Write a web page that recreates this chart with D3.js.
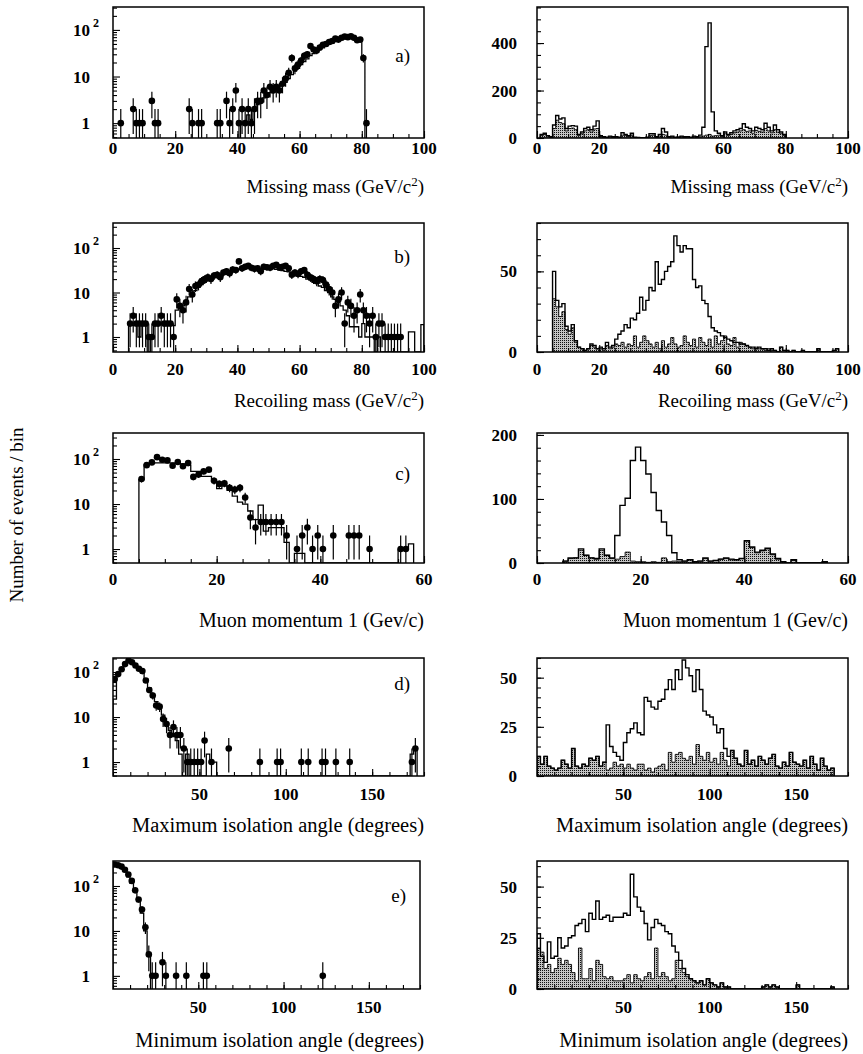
<!DOCTYPE html>
<html><head><meta charset="utf-8">
<script src="https://cdn.jsdelivr.net/npm/d3@7"></script>
<style>
body{margin:0;background:#fff;}
svg{display:block;}
text{font-family:"Liberation Serif","Times New Roman",serif;fill:#000;}
</style></head><body>
<svg id="chart" width="863" height="1054"></svg>
<script>
// ---------------- DATA ----------------
const titles = ["Missing mass (GeV/c", "Recoiling mass (GeV/c", "Muon momentum 1 (Gev/c)", "Maximum isolation angle (degrees)", "Minimum isolation angle (degrees)"];
const panelLetters = ["a)", "b)", "c)", "d)", "e)"];
const yAxisTitle = "Number of events / bin";
const massTicks = [0, 20, 40, 60, 80, 100];
const momTicks = [0, 20, 40, 60];
const angleTicks = [50, 100, 150];
const logTicks = [1, 10, 100];
const aRightTicks = [0, 200, 400];
const bRightTicks = [0, 50];
const cRightTicks = [0, 100, 200];
const dRightTicks = [0, 25, 50];
const eRightTicks = [0, 25, 50];

// a) missing mass, 1 GeV bins (0-100)
const aLeftData = [0,0,1,0,0,0,2,1,1,1, 0,0,3,1,1,0,0,0,0,0, 0,0,0,0,2,1,0,1,1,0, 0,0,0,1,1,0,3,1,2,5,
  1,2,1,2,1,2,3,3,5,4, 6,5,6,5,7,9,12,25,15,18, 22,28,30,45,38,36,42,48,50,55, 58,65,62,68,72,70,73,68,60,62, 25,1];
const aLeftMC = [0,0,0,0,0,0,0,0,0,0, 0,0,0,0,0,0,0,0,0,0, 0,0,0,0,0,0,0,0,0,0, 0,0,0,0,0,0,0,0,0,0,
  0,1,1,1.5,1.2,2,2.5,3,3.5,4, 4.5,5,5.5,6,7,7.5,9,11,13,15, 18,21,24,28,31,34,38,41,45,49, 52,56,59,62,64,65,65,64,62,58, 25];
const aRightTotal = [0,15,20,10,5,55,95,80,85,40, 50,52,50,15,25,40,45,35,50,72, 10,5,3,8,5,6,3,22,15,10, 20,3,2,1,0,3,18,18,5,15,
  40,25,5,8,3,4,8,5,6,3, 8,5,12,45,385,485,110,30,20,10, 25,15,22,30,35,40,60,45,40,30, 45,40,35,62,45,30,55,35,25,15];
const aRightBkg = [0,10,15,8,3,40,75,65,60,30, 40,42,35,10,18,30,35,25,38,40, 6,3,2,5,3,4,2,12,10,6, 12,2,1,1,1,1,10,12,3,8,
  15,12,3,5,2,2,5,3,4,2, 5,3,5,8,12,15,8,10,12,6, 18,10,15,22,25,30,35,28,30,20, 32,28,25,40,30,22,35,25,18,10];

// b) recoiling mass, 1 GeV bins (0-100)
const bLeftData = [0,0,0,0,0,2,3,2,2,2, 2,1,1,2,2,3,2,2,2,1, 7,5,4,6,12,9,14,15,18,20, 22,20,24,25,22,28,30,27,33,32,
  50,35,38,40,36,34,35,30,38,37, 36,40,42,37,38,40,35,25,28,26, 30,32,25,22,20,18,20,19,15,12, 10,5,7,10,2,6,5,3,4,9,
  4,3,2,3,1,2,2,1,1,1, 1,1,1];
const bLeftMC = [0,0,0,0,0,1.8,1.8,2,1,1.8, 1.8,0,1,1.8,1.8,2,1.8,2,1.8,1.8, 4,5,5,6,8,9,11,13,15,17, 19,21,23,25,26,28,29,30,31,32,
  33,34,34,35,35,35,35,35,35,35, 34,34,33,32,31,30,29,27,26,24, 23,22,20,19,17,16,14,13,11,10, 8,7,6,5,4,3,1.7,1.7,1.7,1,
  2,1,1,1,0,1,0,0,0,0, 0,0,0,0,0,1.3,1.3,0,0,1.9];
const bRightTotal = [0,0,0,0,0,50,32,28,30,16, 13,17,7,3,2,1,2,5,4,2, 3,2,6,3,4,8,11,13,17,15, 21,20,24,34,26,32,40,38,56,42,
  45,50,53,56,72,66,62,66,64,64, 45,40,41,32,30,22,15,13,12,10, 9,8,7,6,6,5,5,4,3,3, 2,3,2,2,1,2,1,0,3,1,
  1,0,1,0,0,1,0,0,0,0, 2,0,0,0,0,1,2];
const bRightBkg = [0,0,0,0,0,33,28,22,25,14, 11,15,6,3,2,1,2,4,3,2, 2,1,4,2,3,5,4,6,3,5, 4,10,3,6,10,7,5,3,6,2,
  7,3,5,9,5,3,4,10,6,4, 8,3,9,6,4,8,3,10,5,7, 10,5,4,9,3,6,5,4,3,2, 3,2,2,1,2,1,1,0,3,1,
  1,0,1,0,0,1,0,0,0,0, 2,0,0,0,0,1,2];

// c) muon momentum, 1 GeV/c bins (0-60)
const cLeftData = [0,0,0,0,0,36,73,84,110,96, 93,71,86,69,81,40,45,53,58,33, 28,29,23,21,23,14,5,3,4,4,
  4,4,4,2,0,1,2,3,1,2, 1,0,2,0,0,2,2,2,0,1, 0,0,0,0,0,1,1];
const cLeftMC = [0,0,0,0,0,35,75,80,82,82, 82,82,80,78,72,53,53,41,41,32, 22,25,20,15,11,10,7,4.5,9.5,2.5,
  3,3,3,1.4,0,0.8,0.8,0,0,0, 0,0,0,0,0,0,0,0,0,0, 0,0,0,0,0,1,1,1.3];
const cRightTotal = [0,0,0,0,0,3,8,8,22,12, 8,7,22,12,8,43,90,101,160,181, 160,139,110,82,64,43,16,5,3,5,
  2,3,8,3,4,6,8,6,5,7, 35,25,17,20,23,14,7,2,0,5, 0,0,0,0,0,2];
const cRightBkg = [0,0,0,0,0,3,7,8,20,12, 8,6,20,12,7,6,10,17,3,2, 2,1,2,1,8,2,3,2,3,5,
  2,3,7,3,4,6,7,5,5,7, 34,24,16,19,22,13,6,2,0,4, 0,0,0,0,0,1];

// d) maximum isolation angle, 2 degree bins (0-180)
const dLeftData = [70,90,115,150,180,165,140,118,105,65, 40,30,18,17,9,7,4,6,4,4, 2,1,1,1,1,1,3,0,1,0,
  0,0,0,2,0,0,0,0,0,0, 0,0,1,0,0,0,0,1,1,0, 0,0,0,0,1,0,1,0,0,0, 1,1,0,0,1,0,0,0,1,0,
  0,0,0,0,0,0,0,0,0,0, 0,0,0,0,0,0,1,2];
const dLeftMC = [25,85,110,140,165,160,140,115,95,70, 45,32,22,15,11,7,5,4,3,1.5, 0,1.5,0,0,0,0,0,1.5,1,1,
  0,0,0,0,0,0,0,0,0,0, 0,0,0,0,0,0,0,0,0,0, 0,0,0,0,0,0,0,0,0,0, 0,0,0,0,0,0,0,0,0,0,
  0,0,0,0,0,0,0,0,0,0, 0,0,0,0,0,0,1.5,2];
const dRightTotal = [10,6,10,5,4,3,4,8,6,4, 14,5,4,6,5,9,8,10,5,7, 26,15,12,10,8,17,22,24,27,22,
  21,40,38,35,34,38,39,44,49,44, 54,49,59,55,51,43,54,44,33,31, 30,26,22,24,14,10,13,9,6,5,
  13,6,8,5,10,8,6,9,11,5, 4,7,5,12,7,6,5,8,4,10, 6,3,9,5,3,4];
const dRightBkg = [10,6,10,5,4,3,4,8,6,4, 14,5,4,6,5,9,8,10,5,7, 3,4,7,5,6,4,6,4,3,6,
  6,3,4,2,4,5,6,3,12,7, 11,12,9,8,10,6,16,10,8,12, 7,9,6,12,8,5,13,9,6,5,
  13,6,8,5,10,8,6,9,11,5, 4,7,5,12,7,6,5,8,4,10, 6,3,9,5,3,4];

// e) minimum isolation angle, 2 degree bins (0-180)
const eLeftData = [300,290,270,230,180,130,80,50,30,12, 3,1,1,0,2,1,0,0,1,0, 0,1,0,0,0,0,1,1,0,0,
  0,0,0,0,0,0,0,0,0,0, 0,0,0,0,0,0,0,0,0,0, 0,0,0,0,0,0,0,0,0,0, 0,1];
const eLeftMC = [330,300,260,210,160,115,75,45,25,10, 3];
const eRightTotal = [27,16,13,23,15,16,25,20,21,25, 26,31,32,34,28,37,34,43,34,35, 36,33,35,35,35,37,36,56,45,40,
  38,32,24,30,34,32,31,28,27,21, 18,14,10,7,5,4,3,4,2,5, 3,2,1,3,1,1,0,0,0,0,
  0,0,0,0,0,1,2,1,2,1, 0,0,0,0,0,2,0,0,0,0, 0,0,0,0,0,1];
const eRightBkg = [20,18,10,12,8,10,15,12,14,12, 8,4,20,5,5,10,4,14,12,6, 5,6,4,4,4,5,7,3,7,5,
  4,6,8,5,20,6,8,6,4,5, 14,10,8,6,5,4,3,4,2,5, 3,2,1,3,1,1,0,0,0,0,
  0,0,0,0,0,1,2,1,2,1, 0,0,0,0,0,2,0,0,0,0, 0,0,0,0,0,1];

// ---------------- LAYOUT ----------------
const rows = [
  {top:7,   bot:138, tickOff:16, titleY:193, letterY:62,  titleSize:19},
  {top:223, bot:352, tickOff:23, titleY:407, letterY:263, titleSize:19},
  {top:433, bot:563, tickOff:22, titleY:627, letterY:480, titleSize:20},
  {top:658, bot:776, tickOff:24, titleY:832, letterY:690, titleSize:20.5},
  {top:861, bot:989, tickOff:24, titleY:1047, letterY:902, titleSize:20.5}
];
const leftX = [113, 424], rightX = [537, 848];

const panels = [
  {row:0, side:"L", xdom:[0,100], bw:1, xmaj:massTicks, xminStep:5, ydom:[0.48,310], log:true, data:aLeftData, mc:aLeftMC, title:0, sup:true},
  {row:0, side:"R", xdom:[0,100], bw:1, xmaj:massTicks, xminStep:5, ydom:[0,552], yticks:aRightTicks, yminStep:50, total:aRightTotal, bkg:aRightBkg, title:0, sup:true},
  {row:1, side:"L", xdom:[0,100], bw:1, xmaj:massTicks, xminStep:5, ydom:[0.46,365], log:true, data:bLeftData, mc:bLeftMC, title:1, sup:true},
  {row:1, side:"R", xdom:[0,100], bw:1, xmaj:massTicks, xminStep:5, ydom:[0,80], yticks:bRightTicks, yminStep:10, total:bRightTotal, bkg:bRightBkg, title:1, sup:true},
  {row:2, side:"L", xdom:[0,60], bw:1, xmaj:momTicks, xminStep:5, ydom:[0.49,378], log:true, data:cLeftData, mc:cLeftMC, title:2},
  {row:2, side:"R", xdom:[0,60], bw:1, xmaj:momTicks, xminStep:5, ydom:[0,203], yticks:cRightTicks, yminStep:20, total:cRightTotal, bkg:cRightBkg, title:2},
  {row:3, side:"L", xdom:[0,180], bw:2, xmaj:angleTicks, xminStep:10, ydom:[0.49,205], log:true, data:dLeftData, mc:dLeftMC, title:3},
  {row:3, side:"R", xdom:[0,180], bw:2, xmaj:angleTicks, xminStep:10, ydom:[0,60], yticks:dRightTicks, yminStep:5, total:dRightTotal, bkg:dRightBkg, title:3},
  {row:4, side:"L", xdom:[0,180], bw:2, xmaj:angleTicks, xminStep:10, ydom:[0.51,360], log:true, data:eLeftData, mc:eLeftMC, title:4, xr:420},
  {row:4, side:"R", xdom:[0,180], bw:2, xmaj:angleTicks, xminStep:10, ydom:[0,62.5], yticks:eRightTicks, yminStep:5, total:eRightTotal, bkg:eRightBkg, title:4}
];

// ---------------- DRAW ----------------
const svg = d3.select("#chart");
const defs = svg.append("defs");
const pat = defs.append("pattern").attr("id","stipple").attr("patternUnits","userSpaceOnUse").attr("width",2).attr("height",2);
pat.append("rect").attr("width",2).attr("height",2).attr("fill","#c4c4c4");
pat.append("rect").attr("x",0).attr("y",0).attr("width",1).attr("height",1).attr("fill","#111");

function stepPath(vals, bw, x, yFn, base, close){
  let first = -1, last = -1;
  vals.forEach((v,i)=>{ if(v>0){ if(first<0) first=i; last=i; } });
  if(first<0) return "";
  let p = `M${x(first*bw)},${base}`;
  for(let i=first;i<=last;i++){
    const v = vals[i]>0 ? yFn(vals[i]) : base;
    p += `V${v}H${x((i+1)*bw)}`;
  }
  p += `V${base}`;
  if(close) p += "Z";
  return p;
}

panels.forEach((cfg, idx)=>{
  const r = rows[cfg.row];
  const xr = cfg.side==="L" ? [leftX[0], cfg.xr || leftX[1]] : rightX;
  const x = d3.scaleLinear().domain(cfg.xdom).range(xr);
  const y = (cfg.log ? d3.scaleLog() : d3.scaleLinear()).domain(cfg.ydom).range([r.bot, r.top]);
  const base = r.bot;
  const yc = v => Math.min(base, Math.max(r.top - 2, y(Math.max(v, cfg.ydom[0]))));
  const g = svg.append("g");
  const clipId = "clip"+idx;
  defs.append("clipPath").attr("id",clipId).append("rect")
    .attr("x",xr[0]).attr("y",r.top).attr("width",xr[1]-xr[0]).attr("height",r.bot-r.top);
  const plot = g.append("g").attr("clip-path",`url(#${clipId})`);

  if(cfg.log){
    plot.append("path").attr("d", stepPath(cfg.mc, cfg.bw, x, yc, base, false))
      .attr("fill","none").attr("stroke","#000").attr("stroke-width",1.3);
    const pts = cfg.data.map((v,i)=>({v,i})).filter(d=>d.v>0);
    plot.selectAll("line.err").data(pts).enter().append("line")
      .attr("x1",d=>x((d.i+0.5)*cfg.bw)).attr("x2",d=>x((d.i+0.5)*cfg.bw))
      .attr("y1",d=>yc(d.v+Math.sqrt(d.v))).attr("y2",d=>yc(d.v-Math.sqrt(d.v)))
      .attr("stroke","#000").attr("stroke-width",1.2);
    plot.selectAll("circle").data(pts).enter().append("circle")
      .attr("cx",d=>x((d.i+0.5)*cfg.bw)).attr("cy",d=>yc(d.v)).attr("r",3.3).attr("fill","#000");
  } else {
    plot.append("path").attr("d", stepPath(cfg.bkg, cfg.bw, x, yc, base, true))
      .attr("fill","url(#stipple)").attr("stroke","#000").attr("stroke-width",0.9);
    plot.append("path").attr("d", stepPath(cfg.total, cfg.bw, x, yc, base, false))
      .attr("fill","none").attr("stroke","#000").attr("stroke-width",1.4);
  }

  // x axis ticks (inward)
  const xmin = d3.range(cfg.xdom[0], cfg.xdom[1]+0.001, cfg.xminStep);
  const ax1 = g.append("g").attr("transform",`translate(0,${r.bot})`)
    .call(d3.axisBottom(x).tickValues(xmin).tickSize(-4).tickFormat(""));
  const ax2 = g.append("g").attr("transform",`translate(0,${r.bot})`)
    .call(d3.axisBottom(x).tickValues(cfg.xmaj).tickSize(-7).tickFormat(""));
  [ax1,ax2].forEach(a=>{ a.select(".domain").remove(); a.selectAll("line").attr("stroke","#000").attr("stroke-width",1.1); });
  g.selectAll("text.xl").data(cfg.xmaj).enter().append("text").attr("class","xl")
    .attr("x",d=>x(d)).attr("y",r.bot + r.tickOff).attr("text-anchor","middle")
    .attr("font-size",17).attr("font-weight","bold").text(d=>d);

  // y axis ticks (inward)
  let ymaj, ymin;
  if(cfg.log){
    ymaj = logTicks.filter(v=>v>=cfg.ydom[0] && v<=cfg.ydom[1]);
    ymin = [];
    [0.1,1,10,100].forEach(dec=>{ for(let k=2;k<=9;k++){ const v=k*dec; if(v>=cfg.ydom[0] && v<=cfg.ydom[1]) ymin.push(v);} });
  } else {
    ymaj = cfg.yticks;
    ymin = d3.range(0, cfg.ydom[1]+0.001, cfg.yminStep);
  }
  const ay1 = g.append("g").attr("transform",`translate(${xr[0]},0)`)
    .call(d3.axisLeft(y).tickValues(ymin).tickSize(-4).tickFormat(""));
  const ay2 = g.append("g").attr("transform",`translate(${xr[0]},0)`)
    .call(d3.axisLeft(y).tickValues(ymaj).tickSize(-7).tickFormat(""));
  [ay1,ay2].forEach(a=>{ a.select(".domain").remove(); a.selectAll("line").attr("stroke","#000").attr("stroke-width",1.1); });

  if(cfg.log){
    ymaj.forEach(v=>{
      g.append("text").attr("x",xr[0]-23).attr("y",y(v)+6).attr("text-anchor","end")
        .attr("font-size",17).attr("font-weight","bold").text(v===100 ? "10" : String(v));
      if(v===100){
        g.append("text").attr("x",xr[0]-20).attr("y",y(v)-3).attr("font-size",12).attr("font-weight","bold").text("2");
      }
    });
  } else {
    g.selectAll("text.yl").data(ymaj).enter().append("text").attr("class","yl")
      .attr("x",xr[0]-20).attr("y",d=>y(d)+6).attr("text-anchor","end")
      .attr("font-size",17).attr("font-weight","bold").text(d=>d);
  }

  // frame
  g.append("rect").attr("x",xr[0]).attr("y",r.top).attr("width",xr[1]-xr[0]).attr("height",r.bot-r.top)
    .attr("fill","none").attr("stroke","#000").attr("stroke-width",1.5);

  // panel letter
  if(cfg.side==="L"){
    g.append("text").attr("x",xr[1]-14).attr("y",r.letterY).attr("text-anchor","end")
      .attr("font-size",19).text(panelLetters[cfg.row]);
  }

  // axis title
  const tx = cfg.side==="L" ? leftX[1] : rightX[1];
  const tt = g.append("text").attr("x",tx).attr("y",r.titleY).attr("text-anchor","end").attr("font-size",r.titleSize);
  tt.append("tspan").text(titles[cfg.title]);
  if(cfg.sup){
    tt.append("tspan").attr("font-size",13).attr("dy",-7).text("2");
    tt.append("tspan").attr("dy",7).text(")");
  }
});

svg.append("text").attr("transform","translate(23,515) rotate(-90)").attr("text-anchor","middle")
  .attr("font-size",19).text(yAxisTitle);
</script>
</body></html>
